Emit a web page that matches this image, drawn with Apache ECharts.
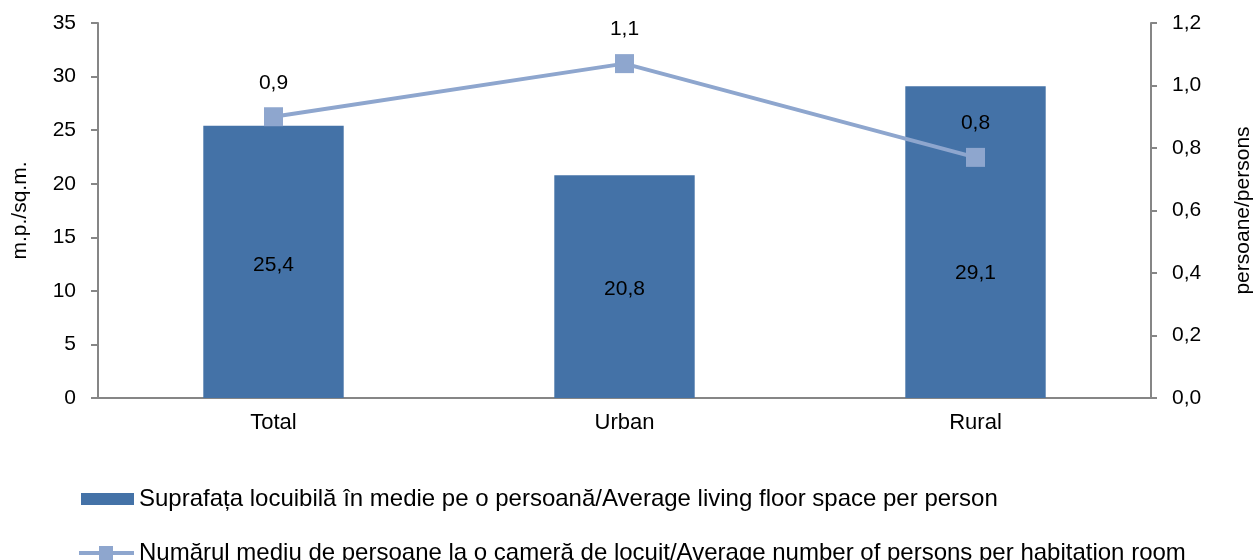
<!DOCTYPE html>
<html><head><meta charset="utf-8">
<script src="https://cdn.jsdelivr.net/npm/echarts@6/dist/echarts.min.js"></script>
<style>html,body{margin:0;padding:0;background:#fff}#c{width:1255px;height:560px}</style>
</head><body><div id="c"></div>
<script>
var categories = ['Total', 'Urban', 'Rural'];
var floorSpace = [25.4, 20.8, 29.1];
var personsPerRoom = [0.9, 1.07, 0.77];
var barName = 'Suprafața locuibilă în medie pe o persoană/Average living floor space per person';
var lineName = 'Numărul mediu de persoane la o cameră de locuit/Average number of persons per habitation room';
var leftTicks = {min: 0, max: 35, interval: 5};
var rightTicks = {min: 0, max: 1.2, interval: 0.2};

var fmt1 = function (v) { return v.toFixed(1).replace('.', ','); };
var F = 'Liberation Sans, Arial, sans-serif';
var chart = echarts.init(document.getElementById('c'));
chart.setOption({
  animation: false,
  textStyle: {fontFamily: F},
  grid: {left: 98, right: 104, top: 23, bottom: 162, containLabel: false, outerBoundsMode: 'none'},
  legend: [{
    left: 76, top: 482, itemWidth: 53, itemHeight: 12,
    textStyle: {fontSize: 24, color: '#000', fontFamily: F},
    data: [{name: barName, icon: 'rect'}]
  }, {
    left: 74, top: 536, itemWidth: 55, itemHeight: 14,
    textStyle: {fontSize: 24, color: '#000', fontFamily: F},
    data: [{name: lineName, icon: 'path://M0,5h55v4H0z M20,0h14v14H20z'}]
  }],
  xAxis: {
    type: 'category', data: categories,
    axisLine: {lineStyle: {color: '#868686', width: 2}},
    axisTick: {show: false},
    axisLabel: {fontSize: 22, color: '#000', margin: 14}
  },
  yAxis: [{
    type: 'value', min: leftTicks.min, max: leftTicks.max, interval: leftTicks.interval,
    name: 'm.p./sq.m.', nameLocation: 'middle', nameGap: 67, nameRotate: 90,
    nameTextStyle: {fontSize: 21, color: '#000'},
    axisLine: {show: true, lineStyle: {color: '#868686', width: 2}},
    axisTick: {show: true, length: 7, lineStyle: {color: '#868686', width: 2}},
    axisLabel: {fontSize: 21, color: '#000', margin: 22},
    splitLine: {show: false}
  }, {
    type: 'value', min: rightTicks.min, max: rightTicks.max, interval: rightTicks.interval,
    name: 'persoane/persons', nameLocation: 'middle', nameGap: 82, nameRotate: 90,
    nameTextStyle: {fontSize: 21, color: '#000'},
    axisLine: {show: true, lineStyle: {color: '#868686', width: 2}},
    axisTick: {show: true, length: 6, lineStyle: {color: '#868686', width: 2}},
    axisLabel: {fontSize: 21, color: '#000', margin: 21, formatter: fmt1},
    splitLine: {show: false}
  }],
  series: [{
    name: barName, type: 'bar', yAxisIndex: 0, barWidth: '40%',
    itemStyle: {color: '#4472A7'},
    data: floorSpace.map(function (v, i) {
      return {value: v, label: {offset: [0, i === 2 ? 31 : 3]}};
    }),
    label: {show: true, position: 'inside', fontSize: 21, color: '#000', formatter: function (p) { return fmt1(p.value); }}
  }, {
    name: lineName, type: 'line', yAxisIndex: 1, data: personsPerRoom,
    symbol: 'rect', symbolSize: 19,
    lineStyle: {color: '#8EA6CE', width: 4},
    itemStyle: {color: '#8EA6CE'},
    label: {show: true, position: 'top', distance: 14, fontSize: 21, color: '#000', formatter: function (p) { return fmt1(p.value); }}
  }]
});
</script></body></html>
